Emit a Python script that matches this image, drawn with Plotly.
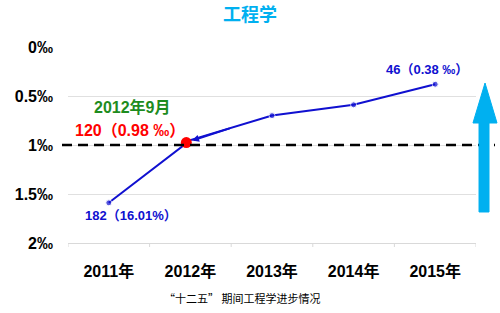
import plotly.graph_objects as go

years = ["2011年", "2012年", "2013年", "2014年", "2015年"]
values = [1.59, 0.95, 0.70, 0.59, 0.38]
marker_sizes = [6, 0, 6, 6, 6]
sept_x = 0.95
sept_value = 0.975
ytick_vals = [0, 0.5, 1, 1.5, 2]
ytick_text = ["0‰", "0.5‰", "1‰", "1.5‰", "2‰"]

BLUE = "#1010D0"
FONT = "Liberation Sans, Noto Sans CJK SC, sans-serif"

L, R, T, B = 68, 476, 47, 243
W, H = 500, 313


def px(x):
    return (x - L) / (R - L)


def py(y):
    return (B - y) / (B - T)


xs = list(range(len(years)))

fig = go.Figure()
fig.add_trace(go.Scatter(
    x=xs, y=values, mode="lines+markers",
    line=dict(color=BLUE, width=2),
    marker=dict(color=BLUE, size=marker_sizes),
    hoverinfo="skip", showlegend=False,
))
fig.add_trace(go.Scatter(
    x=[sept_x], y=[sept_value], mode="markers",
    marker=dict(color="#FF0000", size=11),
    hoverinfo="skip", showlegend=False,
))

# category boundary tick marks
for i in range(len(years) + 1):
    fig.add_shape(type="line", xref="x", yref="paper", x0=i - 0.5, x1=i - 0.5,
                  y0=0, y1=-4 / (B - T), line=dict(color="#d9d9d9", width=1))

# dashed 1 permille reference line
fig.add_shape(type="line", xref="paper", yref="y",
              x0=px(62), x1=px(495), y0=1, y1=1,
              line=dict(color="black", width=2.5, dash="10px,6px"))

# big cyan arrow
pts = [(479, 212), (479, 123), (473, 123), (485, 83), (497, 123), (489, 123), (489, 212)]
path = "M " + " L ".join(f"{px(a):.4f},{py(b):.4f}" for a, b in pts) + " Z"
fig.add_shape(type="path", xref="paper", yref="paper", path=path,
              fillcolor="#00B0F0", line=dict(color="#00B0F0", width=1))

# small arrowhead toward red point
fig.add_annotation(x=1.02, y=0.955, ax=1.5, ay=0.825, xref="x", yref="y",
                   axref="x", ayref="y", text="", showarrow=True,
                   arrowhead=2, arrowsize=0.7, arrowwidth=2, arrowcolor=BLUE)


def label(text, x, y, color, size):
    fig.add_annotation(x=px(x), y=py(y), xref="paper", yref="paper", text=f"<b>{text}</b>",
                       showarrow=False, font=dict(family=FONT, size=size, color=color),
                       xanchor="center", yanchor="middle")


label("2012年9月", 132, 107, "#1E8C1E", 16)
label("120（0.98 ‰）", 130, 130, "#FF0000", 16)
label("46（0.38 ‰）", 427, 69, BLUE, 13)
label("182（16.01%）", 131, 215, BLUE, 13)

fig.add_annotation(x=px(242), y=py(298), xref="paper", yref="paper",
                   text="“十二五” 期间工程学进步情况", showarrow=False,
                   font=dict(family="Noto Sans CJK SC, serif", size=11, color="black"),
                   xanchor="center", yanchor="middle")

fig.update_layout(
    width=W, height=H,
    margin=dict(l=L, r=W - R, t=T, b=H - B),
    paper_bgcolor="white", plot_bgcolor="white",
    title=dict(text="<b>工程学</b>", x=0.5, xanchor="center", y=1 - 15 / H, yanchor="middle",
               font=dict(family=FONT, size=18, color="#00B0F0")),
    font=dict(family=FONT),
)
fig.update_xaxes(
    range=[-0.5, 4.5], tickvals=xs, ticktext=[f"<b>{t}</b>" for t in years],
    tickfont=dict(size=16, color="black"), ticks="", showgrid=False, zeroline=False,
    showline=True, linecolor="#d9d9d9", linewidth=1, ticklabelstandoff=14,
)
fig.update_yaxes(
    range=[2, 0], tickvals=ytick_vals, ticktext=[f"<b>{t}</b>" for t in ytick_text],
    tickfont=dict(size=16, color="black"), showgrid=True, gridcolor="#e0e0e0", gridwidth=1,
    zeroline=False, ticklabelstandoff=14,
)

fig.write_html("out.html", config={"displayModeBar": False})
